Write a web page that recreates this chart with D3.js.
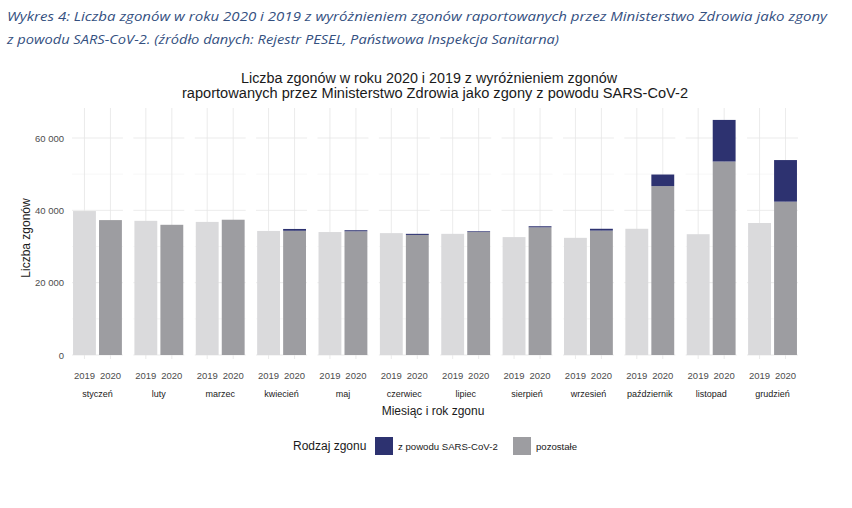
<!DOCTYPE html>
<html><head><meta charset="utf-8">
<script src="https://cdn.jsdelivr.net/npm/d3@7"></script>
<style>body{margin:0;background:#fff}svg{display:block}</style>
</head><body><svg id="c" width="852" height="508"></svg>
<script>
const months = ["styczeń","luty","marzec","kwiecień","maj","czerwiec","lipiec","sierpień","wrzesień","październik","listopad","grudzień"];
const years = ["2019","2020"];
const deaths2019 = [39800,37100,36800,34300,34000,33700,33500,32600,32400,34900,33400,36500];
const other2020 = [37300,36000,37400,34350,34200,33200,34000,35300,34400,46700,53500,42400];
const covid2020 = [0,0,0,500,300,300,200,300,500,3200,11500,11500];
const yTicks = [0,20000,40000,60000];
const legendLabels = ["z powodu SARS-CoV-2","pozostałe"];

const colLight="#dadadc", colGrey="#9d9da1", colNavy="#2d3270";
const svg = d3.select("#c");
const fmt = v => d3.format(",")(v).replace(/,/g," ");

// caption
const cap = svg.append("g").attr("font-family","Open Sans").attr("font-style","italic").attr("fill","#34507f").attr("font-size",13);
cap.append("text").attr("x",7).attr("y",21).attr("textLength",820).attr("lengthAdjust","spacingAndGlyphs")
  .text("Wykres 4: Liczba zgonów w roku 2020 i 2019 z wyróżnieniem zgonów raportowanych przez Ministerstwo Zdrowia jako zgony");
cap.append("text").attr("x",7).attr("y",44).attr("textLength",552).attr("lengthAdjust","spacingAndGlyphs")
  .text("z powodu SARS-CoV-2. (źródło danych: Rejestr PESEL, Państwowa Inspekcja Sanitarna)");

// title
const tg = svg.append("g").attr("font-family","Liberation Sans").attr("font-size",14).attr("fill","#1a1a1a").attr("text-anchor","middle");
tg.append("text").attr("x",429).attr("y",83).attr("textLength",376).attr("lengthAdjust","spacingAndGlyphs").text("Liczba zgonów w roku 2020 i 2019 z wyróżnieniem zgonów");
tg.append("text").attr("x",435).attr("y",98).attr("textLength",506).attr("lengthAdjust","spacingAndGlyphs").text("raportowanych przez Ministerstwo Zdrowia jako zgony z powodu SARS-CoV-2");

const y = d3.scaleLinear().domain([0,60000]).range([355,138]);
const xM = d3.scaleBand().domain(months).range([72,798]).paddingInner(0.17).paddingOuter(0);
const xY = d3.scaleBand().domain(years).range([0,xM.bandwidth()]).paddingInner(0.12).paddingOuter(0.04);

const plotTop = 108;
months.forEach((m,i)=>{
  const g = svg.append("g").attr("transform",`translate(${xM(m)},0)`);
  const w = xM.bandwidth();
  [10000,30000,50000,70000].forEach(v=>{ if(y(v)>=plotTop) g.append("line").attr("x1",0).attr("x2",w).attr("y1",y(v)).attr("y2",y(v)).attr("stroke","#f2f2f2").attr("stroke-width",0.6);});
  yTicks.forEach(v=>g.append("line").attr("x1",0).attr("x2",w).attr("y1",y(v)).attr("y2",y(v)).attr("stroke","#e6e6e6").attr("stroke-width",0.8));
  years.forEach(yr=>{
    const cx = xY(yr)+xY.bandwidth()/2;
    g.append("line").attr("x1",cx).attr("x2",cx).attr("y1",plotTop).attr("y2",359).attr("stroke","#e6e6e6").attr("stroke-width",0.8);
  });
  g.append("rect").attr("x",xY("2019")).attr("width",xY.bandwidth()).attr("y",y(deaths2019[i])).attr("height",y(0)-y(deaths2019[i])).attr("fill",colLight);
  g.append("rect").attr("x",xY("2020")).attr("width",xY.bandwidth()).attr("y",y(other2020[i])).attr("height",y(0)-y(other2020[i])).attr("fill",colGrey);
  if(covid2020[i]>0){
    const top = other2020[i]+covid2020[i];
    g.append("rect").attr("x",xY("2020")).attr("width",xY.bandwidth()).attr("y",y(top)).attr("height",y(other2020[i])-y(top)).attr("fill",colNavy);
  }
  years.forEach(yr=>{
    g.append("text").attr("x",xY(yr)+xY.bandwidth()/2).attr("y",379).attr("text-anchor","middle")
      .attr("font-family","Liberation Sans").attr("font-size",9.5).attr("fill","#4d4d4d").text(yr);
  });
  g.append("text").attr("x",w/2).attr("y",397).attr("text-anchor","middle")
    .attr("font-family","Liberation Sans").attr("font-size",9).attr("fill","#1a1a1a").text(m);
});

svg.append("g").selectAll("text").data(yTicks).join("text")
  .attr("x",64).attr("y",d=>y(d)+3.5).attr("text-anchor","end")
  .attr("font-family","Liberation Sans").attr("font-size",9.5).attr("fill","#4d4d4d").text(fmt);

svg.append("text").attr("transform","translate(30,238) rotate(-90)").attr("text-anchor","middle")
  .attr("font-family","Liberation Sans").attr("font-size",12).attr("fill","#1a1a1a").text("Liczba zgonów");
svg.append("text").attr("x",433).attr("y",415).attr("text-anchor","middle")
  .attr("font-family","Liberation Sans").attr("font-size",12).attr("fill","#1a1a1a").text("Miesiąc i rok zgonu");

const lg = svg.append("g").attr("font-family","Liberation Sans");
lg.append("text").attr("x",293).attr("y",450).attr("font-size",12).attr("fill","#1a1a1a").text("Rodzaj zgonu");
const legCols = [colNavy,colGrey];
const legX = [375,513];
legendLabels.forEach((l,i)=>{
  lg.append("rect").attr("x",legX[i]).attr("y",437).attr("width",18).attr("height",18).attr("fill",legCols[i]);
  lg.append("text").attr("x",legX[i]+23).attr("y",449.5).attr("font-size",9.6).attr("fill","#1a1a1a").text(l);
});
</script></body></html>
